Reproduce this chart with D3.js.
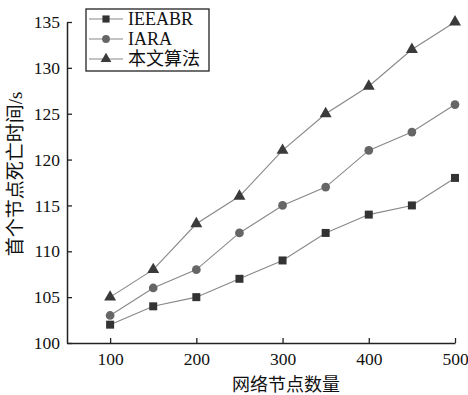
<!DOCTYPE html>
<html>
<head>
<meta charset="utf-8">
<script src="https://cdn.jsdelivr.net/npm/d3@7"></script>
<style>
  body { margin: 0; background: #fff; }
  svg text { font-family: "Liberation Serif", "Times New Roman", "DejaVu Serif", "Noto Sans CJK SC", serif; fill: #111; }
</style>
</head>
<body>
<div id="chart"></div>
<script>
// data
const nodeCounts = [100, 150, 200, 250, 300, 350, 400, 450, 500];
const ieeabr = [102, 104, 105, 107, 109, 112, 114, 115, 118];
const iara = [103, 106, 108, 112, 115, 117, 121, 123, 126];
const ours = [105, 108, 113, 116, 121, 125, 128, 132, 135];
const seriesNames = ['IEEABR', 'IARA', '本文算法'];
const xTicks = [100, 200, 300, 400, 500];
const yTicks = [100, 105, 110, 115, 120, 125, 130, 135];

const W = 468, H = 395;
const svg = d3.select('#chart').append('svg')
    .attr('width', W)
    .attr('height', H);

const x = d3.scaleLinear().domain([50, 500]).range([67, 455]);
const y = d3.scaleLinear().domain([100, 135]).range([343, 22]);

// axes
const xAxis = d3.axisBottom(x).tickValues(xTicks).tickSize(-5).tickSizeOuter(0).tickPadding(10);
const yAxis = d3.axisLeft(y).tickValues(yTicks).tickSize(-5).tickSizeOuter(0).tickPadding(7);

const gx = svg.append('g').attr('transform', 'translate(0,343)').call(xAxis);
const gy = svg.append('g').attr('transform', 'translate(67,0)').call(yAxis);
[gx, gy].forEach(g => {
    g.attr('font-family', null);
    g.select('.domain').attr('stroke', '#222').attr('stroke-width', 1.5);
    g.selectAll('.tick line').attr('stroke', '#222').attr('stroke-width', 1.3);
    g.selectAll('.tick text').attr('font-size', 17.5).attr('fill', '#111');
});

// axis titles
svg.append('text')
    .attr('x', 286)
    .attr('y', 391)
    .attr('text-anchor', 'middle')
    .attr('font-size', 18)
    .text('网络节点数量');

svg.append('text')
    .attr('transform', 'translate(22,174) rotate(-90)')
    .attr('text-anchor', 'middle')
    .attr('font-size', 19)
    .text('首个节点死亡时间/s');

// series
const series = [
    { name: seriesNames[0], values: ieeabr, shape: d3.symbolSquare, size: 64, fill: '#333' },
    { name: seriesNames[1], values: iara, shape: d3.symbolCircle, size: 60, fill: '#666' },
    { name: seriesNames[2], values: ours, shape: d3.symbolTriangle, size: 62, fill: '#3a3a3a' }
];

const line = d3.line()
    .x((d, i) => x(nodeCounts[i]))
    .y(d => y(d));

series.forEach(s => {
    svg.append('path')
        .datum(s.values)
        .attr('d', line)
        .attr('fill', 'none')
        .attr('stroke', '#888')
        .attr('stroke-width', 1.1);

    svg.selectAll(null)
        .data(s.values)
        .enter()
        .append('path')
        .attr('d', d3.symbol().type(s.shape).size(s.size))
        .attr('transform', (d, i) => `translate(${x(nodeCounts[i])},${y(d)})`)
        .attr('fill', s.fill);
});

// legend
const legend = svg.append('g');
legend.append('rect')
    .attr('x', 86).attr('y', 9)
    .attr('width', 123).attr('height', 62)
    .attr('fill', '#fff')
    .attr('stroke', '#222')
    .attr('stroke-width', 1.3);

series.forEach((s, i) => {
    const ly = 19 + i * 20;
    legend.append('line')
        .attr('x1', 89).attr('x2', 123)
        .attr('y1', ly).attr('y2', ly)
        .attr('stroke', '#888')
        .attr('stroke-width', 1.1);
    legend.append('path')
        .attr('d', d3.symbol().type(s.shape).size(s.size * 0.8))
        .attr('transform', `translate(106,${ly})`)
        .attr('fill', s.fill);
    legend.append('text')
        .attr('x', 128)
        .attr('y', ly + 6)
        .attr('font-size', 18)
        .text(s.name);
});
</script>
</body>
</html>
